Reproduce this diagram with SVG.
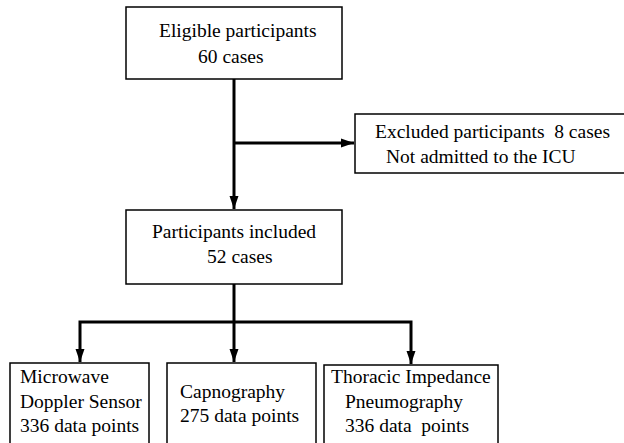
<svg xmlns="http://www.w3.org/2000/svg" width="624" height="443" viewBox="0 0 624 443">
<style>
.box{fill:#fff;stroke:#000;stroke-width:1.5}
.t{font-family:"Liberation Serif","Times New Roman",serif;font-size:19.5px;fill:#000;white-space:pre}
.c{fill:none;stroke:#000;stroke-width:3}
</style>
<defs>
<marker id="ah" markerUnits="userSpaceOnUse" markerWidth="14" markerHeight="10" refX="13" refY="5" orient="auto">
<path d="M0,0.5 L13,5 L0,9.5 Z" fill="#000"/>
</marker>
</defs>
<rect width="624" height="443" fill="#fff"/>
<g id="connectors">
<path class="c" d="M234,79 V209" marker-end="url(#ah)"/>
<path class="c" d="M234,143 H354" marker-end="url(#ah)"/>
<path class="c" d="M234,284 V362" marker-end="url(#ah)"/>
<path class="c" d="M234,322 H80 V362" marker-end="url(#ah)"/>
<path class="c" d="M234,322 H411 V364" marker-end="url(#ah)"/>
</g>
<g id="eligible">
<rect class="box" x="126" y="7" width="216" height="72"/>
<text class="t" x="159" y="37">Eligible participants</text>
<text class="t" x="198" y="63">60 cases</text>
</g>
<g id="excluded">
<rect class="box" x="355" y="114" width="275" height="59"/>
<text class="t" x="375" y="138">Excluded participants  8 cases</text>
<text class="t" x="386" y="163">Not admitted to the ICU</text>
</g>
<g id="included">
<rect class="box" x="126" y="210" width="216" height="74"/>
<text class="t" x="152" y="238">Participants included</text>
<text class="t" x="207" y="263">52 cases</text>
</g>
<g id="microwave">
<rect class="box" x="10" y="363" width="139" height="90"/>
<text class="t" x="20" y="383">Microwave</text>
<text class="t" x="20" y="408">Doppler Sensor</text>
<text class="t" x="20" y="432">336 data points</text>
</g>
<g id="capnography">
<rect class="box" x="167" y="363" width="149" height="90"/>
<text class="t" x="180" y="398">Capnography</text>
<text class="t" x="180" y="422">275 data points</text>
</g>
<g id="thoracic">
<rect class="box" x="324" y="365" width="174" height="90"/>
<text class="t" x="331" y="383">Thoracic Impedance</text>
<text class="t" x="345" y="408">Pneumography</text>
<text class="t" x="345" y="432">336 data  points</text>
</g>
</svg>
